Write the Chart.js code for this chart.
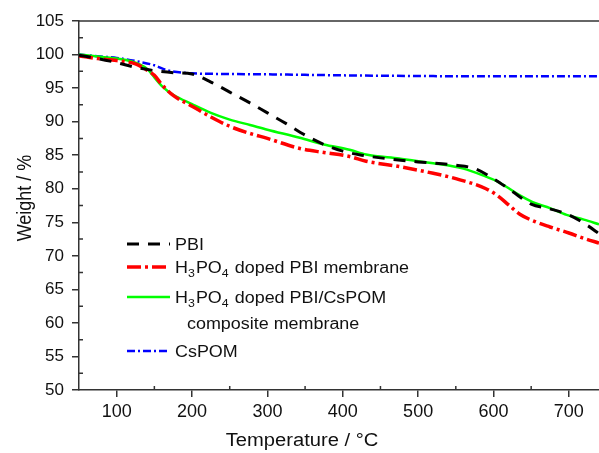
<!DOCTYPE html>
<html>
<head>
<meta charset="utf-8">
<script src="https://cdn.jsdelivr.net/npm/chart.js@4.4.0/dist/chart.umd.min.js"></script>
<style>
html,body{margin:0;padding:0;background:#fff;}
#wrap{width:599px;height:453px;position:relative;}
</style>
</head>
<body>
<div id="wrap"><canvas id="c" width="599" height="453"></canvas></div>
<script>
// ---- data ----
const pbiT = [50,75,100,125,150,175,200,225,250,275,300,325,350,375,400,425,450,500,550,575,600,625,650,675,700,725,740];
const pbiW = [99.9,99.4,98.8,98.1,97.6,97.3,97.1,95.9,94.4,92.9,91.3,89.7,88.0,86.6,85.6,85.0,84.6,84.0,83.5,83.0,81.5,79.6,77.7,77.0,76.1,74.5,73.3];

const dopedT = [50,75,100,125,140,150,160,175,200,225,250,275,300,343,375,409,431,475,520,550,590,605,620,635,655,675,700,720,740];
const dopedW = [99.8,99.4,99.1,98.6,97.7,96.9,95.5,93.9,92.3,90.7,89.3,88.3,87.5,86.0,85.4,84.8,84.1,83.3,82.3,81.5,80.0,79.0,77.6,76.2,75.1,74.3,73.4,72.6,71.9];

const compT = [50,75,100,125,140,150,160,175,200,225,250,277,300,343,375,409,431,475,520,560,590,605,617,635,652,675,697,720,740];
const compW = [100,99.7,99.4,98.8,97.9,96.6,95.3,94.0,92.6,91.3,90.3,89.5,88.8,87.6,86.6,85.8,85.1,84.5,83.8,83.0,81.8,81.1,80.3,79.0,78.0,77.1,76.1,75.4,74.7];

const cspomT = [50,78,100,131,150,166,180,200,250,300,400,500,600,740];
const cspomW = [100,99.7,99.5,98.9,98.4,97.7,97.4,97.2,97.1,97.05,96.9,96.8,96.75,96.75];

const xTicks = [100,200,300,400,500,600,700];
const xMinor = [150,250,350,450,550,650];
const yTicks = [50,55,60,65,70,75,80,85,90,95,100,105];
const yMinor = [52.5,57.5,62.5,67.5,72.5,77.5,82.5,87.5,92.5,97.5,102.5];

const labels = ['PBI','H3PO4 doped PBI membrane','H3PO4 doped PBI/CsPOM','CsPOM'];
const xTitle = 'Temperature / °C';
const yTitle = 'Weight / %';

function pts(T,W){return T.map((t,i)=>({x:t,y:W[i]}));}

const axisColor = '#333';
const font = "'Liberation Sans', Arial, sans-serif";
const SX = 1.12; // horizontal stretch of the reference's text

const extras = {
  id:'extras',
  afterDraw(chart){
    const ctx = chart.ctx;
    const x = chart.scales.x, y = chart.scales.y, a = chart.chartArea;
    ctx.save();
    ctx.strokeStyle = axisColor;
    ctx.lineWidth = 1.5;
    // top border
    ctx.beginPath(); ctx.moveTo(a.left, a.top); ctx.lineTo(a.right, a.top); ctx.stroke();
    // minor ticks (inward)
    ctx.beginPath();
    xMinor.forEach(v=>{const px=x.getPixelForValue(v); ctx.moveTo(px,a.bottom); ctx.lineTo(px,a.bottom-4);});
    yMinor.forEach(v=>{const py=y.getPixelForValue(v); ctx.moveTo(a.left,py); ctx.lineTo(a.left+4,py);});
    ctx.stroke();
    // legend
    const ds = chart.data.datasets;
    const rows = [244,267,297,351];
    const lx0 = 127, lx1 = 170, tx = 175;
    ds.forEach((d,i)=>{
      ctx.save();
      ctx.strokeStyle = d.borderColor;
      ctx.lineWidth = d.borderWidth;
      ctx.setLineDash(d.borderDash || []);
      ctx.beginPath(); ctx.moveTo(lx0, rows[i]); ctx.lineTo(lx1, rows[i]); ctx.stroke();
      ctx.restore();
    });
    ctx.fillStyle = '#111';
    ctx.textBaseline = 'alphabetic';
    const big = '16px ' + font, small = '11px ' + font;
    function rich(parts, x0, yb){
      ctx.save();
      ctx.translate(x0, yb);
      ctx.scale(SX, 1);
      let xx = 0;
      parts.forEach(p=>{
        ctx.font = p.sub ? small : big;
        ctx.fillText(p.t, xx, (p.sub ? 4 : 0));
        xx += ctx.measureText(p.t).width + (p.sub ? 1 : 0);
      });
      ctx.restore();
    }
    rich([{t:'PBI'}], tx, rows[0]+6);
    rich([{t:'H'},{t:'3',sub:1},{t:'PO'},{t:'4',sub:1},{t:' doped PBI membrane'}], tx, rows[1]+6);
    rich([{t:'H'},{t:'3',sub:1},{t:'PO'},{t:'4',sub:1},{t:' doped PBI/CsPOM'}], tx, rows[2]+6);
    rich([{t:'composite membrane'}], 187, 329);
    rich([{t:'CsPOM'}], tx, rows[3]+6);

    // axis titles
    ctx.font = '18px ' + font;
    ctx.textAlign = 'center';
    ctx.save();
    ctx.translate(302, 446);
    ctx.scale(SX, 1);
    ctx.fillText(xTitle, 0, 0);
    ctx.restore();
    ctx.save();
    ctx.translate(31, 198);
    ctx.rotate(-Math.PI/2);
    ctx.scale(1, SX);
    ctx.fillText(yTitle, 0, 0);
    ctx.restore();
    ctx.restore();
  }
};

new Chart(document.getElementById('c'), {
  type:'line',
  data:{
    datasets:[
      {label:labels[0], data:pts(pbiT,pbiW), borderColor:'#000000', borderWidth:3, borderDash:[12,9]},
      {label:labels[1], data:pts(dopedT,dopedW), borderColor:'#ff0000', borderWidth:3.5, borderDash:[14,4,3,4]},
      {label:labels[2], data:pts(compT,compW), borderColor:'#00ff00', borderWidth:2.5},
      {label:labels[3], data:pts(cspomT,cspomW), borderColor:'#0000ff', borderWidth:2.5, borderDash:[8,3,2,3]}
    ]
  },
  options:{
    responsive:false,
    animation:false,
    parsing:false,
    layout:{padding:{top:21,right:0,left:0,bottom:0}},
    elements:{point:{radius:0}, line:{cubicInterpolationMode:'monotone', fill:false}},
    plugins:{legend:{display:false}, tooltip:{enabled:false}},
    scales:{
      x:{
        type:'linear', min:50, max:740,
        afterBuildTicks(s){ s.ticks = xTicks.map(v=>({value:v})); },
        afterFit(s){ s.height = 63; },
        grid:{drawOnChartArea:false, drawTicks:true, tickLength:7, color:axisColor, lineWidth:1.5},
        border:{display:true, color:axisColor, width:1.5},
        ticks:{font:{family:font, size:18}, color:'#111', padding:4, maxRotation:0},
        title:{display:false}
      },
      y:{
        type:'linear', min:50, max:105,
        afterBuildTicks(s){ s.ticks = yTicks.map(v=>({value:v})); },
        afterFit(s){ s.width = 79; },
        grid:{drawOnChartArea:false, drawTicks:true, tickLength:7, color:axisColor, lineWidth:1.5},
        border:{display:true, color:axisColor, width:1.5},
        ticks:{font:{family:font, size:17}, color:'#111', padding:8},
        title:{display:false}
      }
    }
  },
  plugins:[extras]
});
</script>
</body>
</html>
